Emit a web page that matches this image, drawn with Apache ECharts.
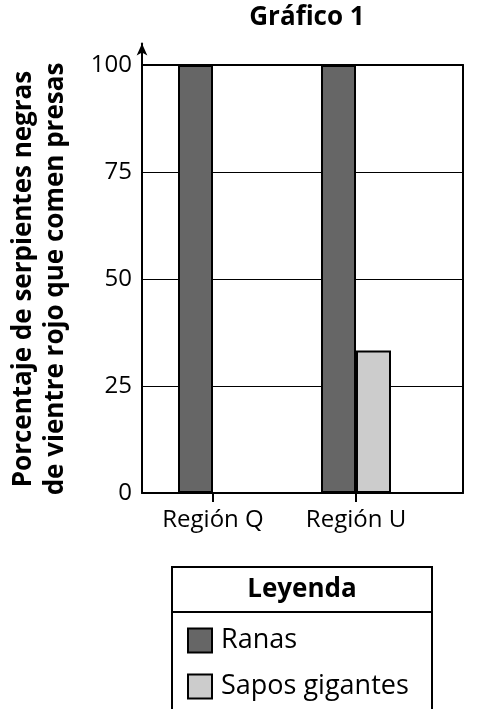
<!DOCTYPE html>
<html><head><meta charset="utf-8">
<script src="https://cdn.jsdelivr.net/npm/echarts@6/dist/echarts.min.js"></script>
<style>html,body{margin:0;padding:0;background:#fff}#c{width:479px;height:709px}</style>
</head><body><div id="c"></div>
<script>
const categories = ['Región Q', 'Región U'];
const ranas = [100, 100];
const sapos = [0, 33.3];
const yTicks = [0, 25, 50, 75, 100];
const seriesNames = ['Ranas', 'Sapos gigantes'];

const FONT = 'Open Sans';
const chart = echarts.init(document.getElementById('c'), null, {renderer: 'canvas'});
const black = '#000';
const none = {show: false};
chart.setOption({
  animation: false,
  backgroundColor: '#fff',
  textStyle: {fontFamily: FONT, color: black},
  title: {text: 'Gráfico 1', left: 302, textAlign: 'center', top: 0,
    textStyle: {fontFamily: FONT, fontSize: 26, fontWeight: 'bold', color: black}},
  grid: [
    {left: 142, right: 16, top: 65, bottom: 216, outerBoundsMode: 'none', containLabel: false},
    {left: 142, right: 16, top: 43.6, bottom: 216, outerBoundsMode: 'none', containLabel: false},
    {left: 141.5, width: 286, top: 65, bottom: 216, outerBoundsMode: 'none', containLabel: false}
  ],
  xAxis: [
    {gridIndex: 0, type: 'value', min: 0, max: 1, axisLabel: none, splitLine: none, axisTick: none,
     axisLine: {show: true, onZero: false, lineStyle: {color: black, width: 2}}},
    {gridIndex: 0, type: 'value', position: 'top', min: 0, max: 1, axisLabel: none, splitLine: none, axisTick: none,
     axisLine: {show: true, onZero: false, lineStyle: {color: black, width: 2}}},
    {gridIndex: 1, type: 'value', min: 0, max: 1, show: false},
    {gridIndex: 2, type: 'category', data: categories,
     axisLine: {show: false},
     axisTick: {show: true, alignWithLabel: true, length: 9, lineStyle: {color: black, width: 2}},
     axisLabel: {fontFamily: FONT, fontSize: 24, color: black, margin: 15}}
  ],
  yAxis: [
    {gridIndex: 0, type: 'value', min: 0, max: 100, interval: 25,
     axisLine: {show: false, onZero: false}, axisTick: none,
     axisLabel: {fontFamily: FONT, fontSize: 24, color: black, margin: 10,
       formatter: v => yTicks.includes(v) ? String(v) : ''},
     splitLine: {show: true, lineStyle: {color: black, width: 1}},
     name: 'Porcentaje de serpientes negras\nde vientre rojo que comen presas',
     nameLocation: 'middle', nameRotate: 90, nameGap: 70,
     nameTextStyle: {fontFamily: FONT, fontSize: 26, fontWeight: 'bold', color: black, lineHeight: 32}},
    {gridIndex: 0, type: 'value', position: 'right', min: 0, max: 100, axisLabel: none, splitLine: none, axisTick: none,
     axisLine: {show: true, onZero: false, lineStyle: {color: black, width: 2}}},
    {gridIndex: 1, type: 'value', min: 0, max: 105, axisLabel: none, splitLine: none, axisTick: none,
     axisLine: {show: true, onZero: false, symbol: ['none', 'arrow'], symbolSize: [8, 12], lineStyle: {color: black, width: 2}}},
    {gridIndex: 2, type: 'value', min: 0, max: 100, show: false}
  ],
  legend: {
    left: 187, top: 627, orient: 'vertical', itemWidth: 24, itemHeight: 24, itemGap: 19, padding: 0,
    icon: 'rect', data: seriesNames,
    textStyle: {fontFamily: FONT, fontSize: 27, color: black, padding: [0, 0, 0, 4]}
  },
  series: [
    {name: seriesNames[0], type: 'bar', xAxisIndex: 3, yAxisIndex: 3, data: ranas, barWidth: 35, barGap: '0%',
     itemStyle: {color: '#666666', borderColor: black, borderWidth: 2}},
    {name: seriesNames[1], type: 'bar', xAxisIndex: 3, yAxisIndex: 3, data: sapos, barWidth: 35, barGap: '0%',
     itemStyle: {color: '#cccccc', borderColor: black, borderWidth: 2}}
  ],
  graphic: [
    {type: 'rect', shape: {x: 172, y: 567, width: 260, height: 160}, style: {fill: 'none', stroke: black, lineWidth: 2}, z: 10},
    {type: 'line', shape: {x1: 172, y1: 612, x2: 432, y2: 612}, style: {stroke: black, lineWidth: 2}, z: 10},
    {type: 'text', x: 302, y: 590, style: {text: 'Leyenda', fontFamily: FONT, fontSize: 26, fontWeight: 'bold', fill: black, align: 'center', verticalAlign: 'middle'}, z: 10}
  ]
});
</script></body></html>
